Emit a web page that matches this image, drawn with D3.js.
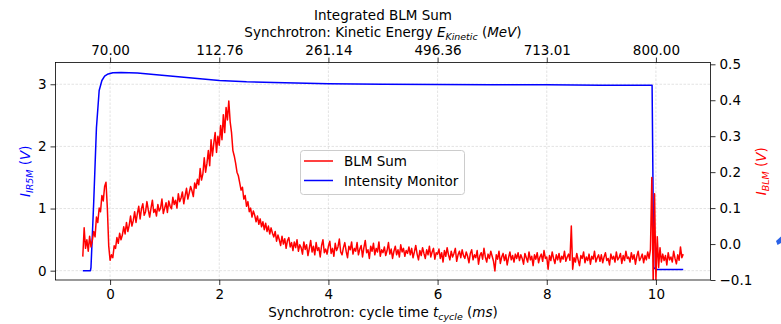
<!DOCTYPE html>
<html>
<head>
<meta charset="utf-8">
<script src="https://cdn.jsdelivr.net/npm/d3@7"></script>
<style>
  html, body { margin: 0; padding: 0; background: #fff; }
  svg text { font-family: "DejaVu Sans", sans-serif; fill: #000; }
</style>
</head>
<body>
<svg id="chart" width="781" height="324"></svg>
<script>
// ---------------- data ----------------
const xTicks = [0, 2, 4, 6, 8, 10];
const topTickLabels = ["70.00", "112.76", "261.14", "496.36", "713.01", "800.00"];
const leftTicks = [0, 1, 2, 3];
const rightTicks = [-0.1, 0.0, 0.1, 0.2, 0.3, 0.4, 0.5];

// Intensity monitor (left axis, V)
const imTime = [-0.5, -0.36, -0.35, -0.3, -0.25, -0.2, -0.15, -0.1, -0.05, 0.05, 0.2, 0.5, 1.0, 1.5, 2.0, 2.5, 3.0, 4.0, 5.0, 6.0, 7.0, 8.0, 9.0, 9.93, 9.96, 10.0, 10.5];
const imValue = [0, 0, 0.05, 1.1, 2.3, 2.9, 3.06, 3.13, 3.16, 3.185, 3.19, 3.18, 3.14, 3.1, 3.06, 3.04, 3.03, 3.01, 3.0, 2.995, 2.99, 2.99, 2.985, 2.985, 0.05, 0.02, 0.02];

// BLM sum (right axis, V), sampled every 0.025 ms from -0.5 ms
const blmStart = -0.5;
const blmStep = 0.025;
const blmValue = [
  -0.035, 0.045, -0.012, 0.012, -0.02, 0.022, -0.008, 0.01, 0.035, 0.02, 0.075, 0.06, 0.1, 0.09, 0.135, 0.12, 0.16, 0.172, 0.1, -0.005,
  -0.045, -0.03, -0.038, -0.005, -0.012, 0.018, 0.002, 0.03, 0.012, 0.025, 0.048, 0.028, 0.06, 0.035, 0.052, 0.078, 0.05, 0.065, 0.09, 0.06,
  0.085, 0.105, 0.07, 0.098, 0.112, 0.08, 0.09, 0.118, 0.095, 0.075, 0.1, 0.122, 0.088, 0.097, 0.078, 0.11, 0.092, 0.1, 0.125, 0.085,
  0.1, 0.115, 0.088, 0.12, 0.105, 0.098, 0.13, 0.11, 0.122, 0.1, 0.14, 0.118, 0.128, 0.145, 0.112, 0.135, 0.155, 0.125, 0.142, 0.16,
  0.148, 0.132, 0.17, 0.155, 0.18, 0.165, 0.21, 0.178, 0.195, 0.24, 0.2, 0.225, 0.26, 0.218, 0.29, 0.245, 0.28, 0.31, 0.255, 0.3,
  0.275, 0.33, 0.29, 0.36, 0.31, 0.38, 0.345, 0.398, 0.34, 0.31, 0.26, 0.245, 0.225, 0.2, 0.19, 0.17, 0.15, 0.158, 0.125, 0.135,
  0.105, 0.118, 0.09, 0.1, 0.075, 0.092, 0.08, 0.062, 0.078, 0.055, 0.07, 0.048, 0.062, 0.04, 0.058, 0.035, 0.05, 0.028, 0.045, 0.03,
  0.02, 0.035, 0.008, 0.025, 0.012, -0.004, 0.022, 0.0, 0.015, -0.012, 0.01, 0.018, -0.008, 0.004, -0.018, 0.006, -0.01, 0.012, -0.02, -0.002,
  -0.01, -0.028, 0.006, -0.015, -0.002, -0.032, -0.012, 0.01, -0.022, -0.006, -0.03, 0.004, -0.018, -0.01, -0.036, -0.004, 0.012, -0.024, -0.014, -0.028,
  -0.006, 0.008, -0.026, -0.012, -0.034, 0.002, -0.018, -0.008, 0.014, -0.022, -0.03, -0.01, 0.004, -0.02, -0.038, -0.006, -0.016, 0.006, -0.028, -0.012,
  -0.02, 0.004, -0.03, -0.014, -0.004, -0.036, -0.01, 0.01, -0.024, -0.016, -0.04, -0.006, -0.02, 0.002, -0.03, -0.012, -0.022, 0.006, -0.034, -0.016,
  -0.024, -0.008, -0.032, -0.018, 0.004, -0.028, -0.014, -0.04, -0.02, -0.006, -0.03, -0.016, -0.036, -0.002, -0.022, -0.012, -0.034, -0.018, -0.026, -0.008,
  -0.03, -0.012, -0.038, -0.022, -0.004, -0.028, -0.044, -0.018, -0.032, -0.01, -0.026, -0.04, -0.016, -0.03, -0.006, -0.036, -0.022, -0.012, -0.042, -0.024,
  -0.028, -0.014, -0.04, -0.024, -0.05, -0.018, -0.034, -0.01, -0.03, -0.044, -0.02, -0.036, -0.026, -0.012, -0.048, -0.03, -0.02, -0.038, -0.016, -0.032,
  -0.04, -0.022, -0.034, -0.052, -0.026, -0.016, -0.044, -0.03, -0.038, -0.018, -0.056, -0.032, -0.024, -0.042, -0.012, -0.036, -0.05, -0.028, -0.04, -0.02,
  -0.034, -0.048, -0.075, -0.03, -0.042, -0.02, -0.054, -0.036, -0.026, -0.046, -0.03, -0.058, -0.038, -0.022, -0.044, -0.032, -0.05, -0.028, -0.04, -0.024,
  -0.046, -0.03, -0.04, -0.056, -0.026, -0.038, -0.05, -0.022, -0.044, -0.034, -0.06, -0.03, -0.042, -0.024, -0.052, -0.036, -0.028, -0.048, -0.018, -0.04,
  -0.036, -0.07, -0.032, -0.046, -0.022, -0.04, -0.054, -0.03, -0.044, -0.026, -0.05, -0.034, -0.042, -0.02, -0.048, -0.036, -0.028, -0.045, 0.05, -0.07,
  -0.038, -0.05, -0.026, -0.044, -0.06, -0.032, -0.04, -0.022, -0.052, -0.036, -0.046, -0.028, -0.056, -0.034, -0.042, -0.02, -0.05, -0.038, -0.03, -0.048,
  -0.03, -0.052, -0.036, -0.024, -0.046, -0.04, -0.058, -0.028, -0.042, -0.034, -0.05, -0.022, -0.044, -0.038, -0.026, -0.054, -0.032, -0.046, -0.02, -0.04,
  -0.036, -0.05, -0.024, -0.042, -0.03, -0.056, -0.034, -0.02, -0.046, -0.038, -0.028, -0.052, -0.032, -0.044, -0.022, -0.04, -0.015, 0.185, -0.11, 0.14,
  -0.1, 0.02, -0.065, -0.01, -0.05, -0.028, -0.046, -0.032, -0.058, -0.024, -0.044, -0.036, -0.05, -0.02, -0.04, -0.055, -0.03, -0.045, -0.008, -0.038,
  -0.028
];

// ---------------- layout ----------------
const svg = d3.select("#chart");
const L = 55.5, R = 710.5, T = 62.5, B = 280;
const x = d3.scaleLinear().domain([-1, 11]).range([L, R]);
const yL = d3.scaleLinear().domain([-0.15, 3.35]).range([B, T]);
const yR = d3.scaleLinear().domain([-0.1, 0.505]).range([B, T]);
const FS = 13.5;

svg.append("defs").append("clipPath").attr("id", "plotclip")
  .append("rect").attr("x", L).attr("y", T).attr("width", R - L).attr("height", B - T);

// grid
const grid = svg.append("g").attr("stroke", "#b0b0b0").attr("stroke-opacity", 0.45)
  .attr("stroke-width", 0.8).attr("stroke-dasharray", "2.5,1.5");
grid.selectAll("line.gx").data(xTicks).join("line")
  .attr("x1", d => x(d)).attr("x2", d => x(d)).attr("y1", T).attr("y2", B);
grid.selectAll("line.gy").data(leftTicks).join("line")
  .attr("y1", d => yL(d)).attr("y2", d => yL(d)).attr("x1", L).attr("x2", R);

// lines
const plot = svg.append("g").attr("clip-path", "url(#plotclip)");
const imData = imTime.map((t, i) => [t, imValue[i]]);
const blmData = blmValue.map((v, i) => [blmStart + i * blmStep, v]);

plot.append("path").datum(imData)
  .attr("fill", "none").attr("stroke", "#0000ff").attr("stroke-width", 1.5).attr("stroke-linejoin", "round")
  .attr("d", d3.line().x(d => x(d[0])).y(d => yL(d[1])));
plot.append("path").datum(blmData)
  .attr("fill", "none").attr("stroke", "#ff0000").attr("stroke-width", 1.5).attr("stroke-linejoin", "round")
  .attr("d", d3.line().x(d => x(d[0])).y(d => yR(d[1])));

// axes
function styleAxis(g) {
  g.select(".domain").remove();
  g.selectAll(".tick line").attr("stroke", "#000").attr("stroke-width", 0.8);
  g.selectAll(".tick text").attr("font-size", FS).attr("font-family", "DejaVu Sans").attr("fill", "#000");
}
svg.append("g").attr("transform", `translate(0,${B})`)
  .call(d3.axisBottom(x).tickValues(xTicks).tickFormat(d3.format("d")).tickSize(5).tickPadding(4))
  .call(styleAxis);
svg.append("g").attr("transform", `translate(0,${T})`)
  .call(d3.axisTop(x).tickValues(xTicks).tickFormat((d, i) => topTickLabels[i]).tickSize(5).tickPadding(3))
  .call(styleAxis);
svg.append("g").attr("transform", `translate(${L},0)`)
  .call(d3.axisLeft(yL).tickValues(leftTicks).tickFormat(d3.format("d")).tickSize(5).tickPadding(4))
  .call(styleAxis);
svg.append("g").attr("transform", `translate(${R},0)`)
  .call(d3.axisRight(yR).tickValues(rightTicks).tickFormat(d => d3.format(".1f")(d).replace("-", "\u2212")).tickSize(5).tickPadding(4))
  .call(styleAxis);

// frame
svg.append("rect").attr("x", L).attr("y", T).attr("width", R - L).attr("height", B - T)
  .attr("fill", "none").attr("stroke", "#000").attr("stroke-width", 0.8);

// titles
svg.append("text").attr("x", (L + R) / 2).attr("y", 20).attr("text-anchor", "middle")
  .attr("font-size", FS).text("Integrated BLM Sum");

const topLabel = svg.append("text").attr("x", (L + R) / 2).attr("y", 37).attr("text-anchor", "middle").attr("font-size", FS);
topLabel.append("tspan").text("Synchrotron: Kinetic Energy ");
topLabel.append("tspan").attr("font-style", "italic").text("E");
topLabel.append("tspan").attr("font-style", "italic").attr("font-size", FS * 0.7).attr("dy", 2.5).text("Kinetic");
topLabel.append("tspan").attr("dy", -2.5).text(" (");
topLabel.append("tspan").attr("font-style", "italic").text("MeV");
topLabel.append("tspan").text(")");

const botLabel = svg.append("text").attr("x", (L + R) / 2).attr("y", 317).attr("text-anchor", "middle").attr("font-size", FS);
botLabel.append("tspan").text("Synchrotron: cycle time ");
botLabel.append("tspan").attr("font-style", "italic").text("t");
botLabel.append("tspan").attr("font-style", "italic").attr("font-size", FS * 0.7).attr("dy", 3).text("cycle");
botLabel.append("tspan").attr("dy", -3).text(" (");
botLabel.append("tspan").attr("font-style", "italic").text("ms");
botLabel.append("tspan").text(")");

function ylabel(xpos, color, sub) {
  const t = svg.append("text").attr("transform", `translate(${xpos},${(T + B) / 2}) rotate(-90)`)
    .attr("text-anchor", "middle").attr("font-size", FS).style("fill", color);
  t.append("tspan").attr("font-style", "italic").text("I");
  t.append("tspan").attr("font-style", "italic").attr("font-size", FS * 0.7).attr("dy", 3).text(sub);
  t.append("tspan").attr("dy", -3).text(" (");
  t.append("tspan").attr("font-style", "italic").text("V");
  t.append("tspan").text(")");
}
ylabel(30, "#0000ff", "IR5M");
ylabel(766, "#ff0000", "BLM");

// legend
const lg = svg.append("g");
lg.append("rect").attr("x", 300.5).attr("y", 150.5).attr("width", 164).attr("height", 44).attr("rx", 3)
  .attr("fill", "#fff").attr("fill-opacity", 0.8).attr("stroke", "#cccccc").attr("stroke-width", 1);
const legendItems = [["BLM Sum", "#ff0000"], ["Intensity Monitor", "#0000ff"]];
legendItems.forEach((d, i) => {
  const yy = 161 + i * 19.5;
  lg.append("line").attr("x1", 304).attr("x2", 333).attr("y1", yy).attr("y2", yy)
    .attr("stroke", d[1]).attr("stroke-width", 1.5);
  lg.append("text").attr("x", 344).attr("y", yy + 5).attr("font-size", FS).text(d[0]);
});

// cut-off blue mark at right edge
svg.append("path").attr("d", "M776,241 L781,236.5 L781,243 L777.5,245 Z").attr("fill", "#2a62e8");
</script>
</body>
</html>
